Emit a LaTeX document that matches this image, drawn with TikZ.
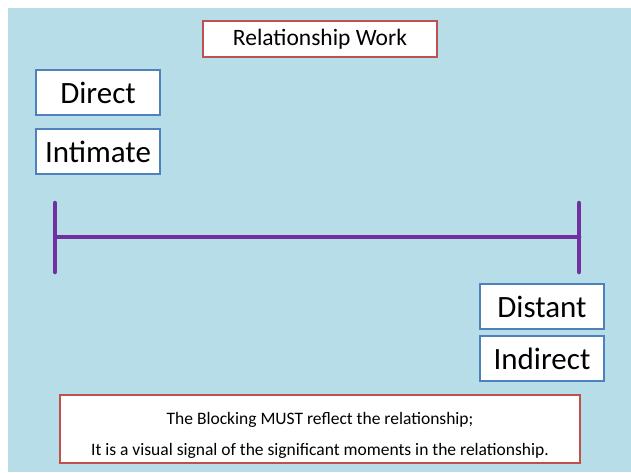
\documentclass[tikz,border=0pt]{standalone}
\usepackage{fontspec}
\setmainfont{Carlito}
\definecolor{skyback}{HTML}{B7DDE8}
\definecolor{barpurple}{HTML}{7030A0}
\definecolor{boxblue}{HTML}{4F81BD}
\definecolor{boxred}{HTML}{C0504D}
\begin{document}
\begin{tikzpicture}[x=1pt,y=-1pt,
  end box/.style={draw=boxblue,line width=1.6pt,fill=white,minimum width=124pt,minimum height=45pt,inner sep=0pt,font=\fontsize{31}{34}\selectfont},
  note box/.style={draw=boxred,line width=1.6pt,fill=white,inner sep=0pt},
  bar/.style={draw=barpurple,line width=4.5pt,line cap=round}]

  \useasboundingbox (0,0) rectangle (631,472);
  \fill[skyback] (8,8) rectangle (631,472);

  \node[note box,minimum width=234pt,minimum height=36pt,font=\fontsize{23.5}{26}\selectfont] (title) at (320,39) {Relationship Work};

  \node[end box] (direct) at (98,92.5) {Direct};
  \node[end box] (intimate) at (98,151.5) {Intimate};
  \node[end box] (distant) at (542,306.5) {Distant};
  \node[end box] (indirect) at (542,358.5) {Indirect};

  \coordinate (lefttop) at (55,203);
  \coordinate (leftbot) at (55,272);
  \coordinate (rightop) at (579,203);
  \coordinate (rightbot) at (579,272);
  \coordinate (leftmid) at (55,237);
  \coordinate (rightmid) at (579,237);
  \draw[bar] (lefttop) -- (leftbot);
  \draw[bar] (rightop) -- (rightbot);
  \draw[bar] (leftmid) -- (rightmid);

  \node[note box,minimum width=520pt,minimum height=68pt,align=center,font=\fontsize{17.5}{31}\selectfont] (blocking) at (320,429)
    {\rule{0pt}{25pt}The Blocking MUST reflect the relationship;\\It is a visual signal of the significant moments in the relationship.};
\end{tikzpicture}
\end{document}
